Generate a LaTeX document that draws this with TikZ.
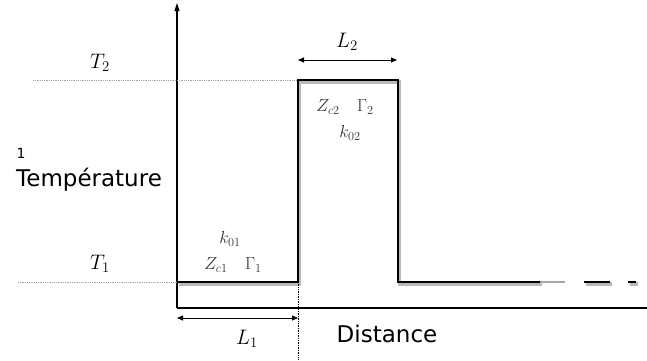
\RequirePackage{fix-cm}
\documentclass[tikz,border=0pt]{standalone}
\usepackage{amsmath}
\usepackage{fontspec}
\newfontfamily\labelfont{DejaVu Sans}
\usetikzlibrary{arrows.meta,positioning,calc}

\begin{document}
\begin{tikzpicture}[
  x=1pt, y=-1pt,
  axisline/.style={line width=1.1pt},
  profile/.style={line width=2.6pt, line join=miter},
  shadow/.style={line width=3.6pt, gray!55, line join=miter},
  guide/.style={densely dotted, gray!70, line width=0.8pt},
  cutline/.style={densely dotted, line width=0.7pt},
  dimarrow/.style={{Triangle[length=6pt,width=5pt]}-{Triangle[length=6pt,width=5pt]}, line width=0.8pt},
  lab/.style={font=\labelfont\fontsize{23}{26}\selectfont, inner sep=0pt},
  mlab/.style={font=\fontsize{21}{24}\selectfont, inner sep=0pt},
  plab/.style={font=\fontsize{17.5}{20}\selectfont, inner sep=0pt, text=black!80}
]
\useasboundingbox (0,0) rectangle (647,360);

% axes
\coordinate (O) at (177,308);
\coordinate (ytop) at (177,3);
\coordinate (xend) at (647,308);
\draw[axisline, -{Triangle[length=8pt,width=5pt]}] (O) -- (ytop);
\draw[axisline] (O) -- (xend);

% guide lines for T1, T2
\coordinate (g2) at (33,80);
\coordinate (top1) at (298,80);
\coordinate (g1) at (18,282);
\coordinate (base0) at (177,282);
\draw[guide] (g2) -- (top1);
\draw[guide] (g1) -- (base0);

% temperature profile, with its shadow
\def\profilepath{(177,282) -- (298,282) -- (298,80) -- (398,80) -- (398,282) -- (540,282)}
\draw[shadow, xshift=1.5pt, yshift=-2pt] \profilepath;
\draw[profile] \profilepath;
\draw[profile, gray!70] (540,282) -- (565,282);
\draw[shadow, xshift=1.5pt, yshift=-2pt] (584,282) -- (610,282) (628,282) -- (636,282);
\draw[profile] (584,282) -- (610,282) (628,282) -- (636,282);

% end of first layer
\coordinate (cut0) at (298,282);
\coordinate (cut1) at (298,360);
\draw[cutline] (cut0) -- (cut1);

% lengths
\coordinate (l1a) at (177,318);
\coordinate (l1b) at (298,318);
\draw[dimarrow] (l1a) -- (l1b);
\coordinate (l2a) at (298,60);
\coordinate (l2b) at (397,60);
\draw[dimarrow] (l2a) -- (l2b);

% labels
\node[mlab] (T2) at (100,63) {$T_2$};
\node[mlab] (T1) at (100,264) {$T_1$};
\node[lab, anchor=west] (ylab) at (16,180) {Température};
\node[font=\labelfont\fontsize{14}{16}\selectfont, inner sep=0pt] (ynote) at (21,153) {1};
\node[lab] (xlab) at (387,334) {Distance};
\node[mlab] (L1) at (247,339) {$L_1$};
\node[mlab] (L2) at (347,42) {$L_2$};
\node[plab] (zg2) at (345,107) {$Z_{c2}\quad\Gamma_2$};
\node[plab] (k2) at (350,133) {$k_{02}$};
\node[plab] (k1) at (230,239) {$k_{01}$};
\node[plab] (zg1) at (233,265) {$Z_{c1}\quad\Gamma_1$};
\end{tikzpicture}
\end{document}
